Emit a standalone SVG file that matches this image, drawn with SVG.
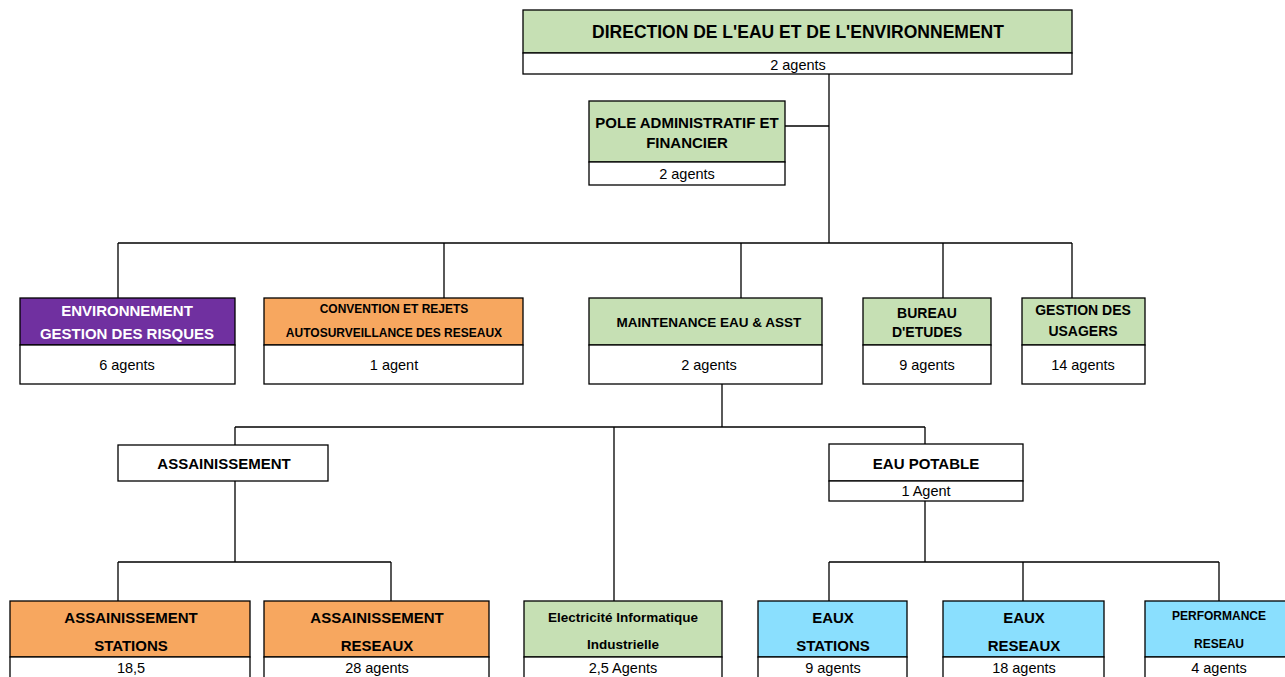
<svg xmlns="http://www.w3.org/2000/svg" width="1285" height="677" viewBox="0 0 1285 677">
<style>
  text { font-family: "Liberation Sans", Arial, sans-serif; text-anchor: middle; dominant-baseline: central; fill: #000; }
  .b { font-weight: bold; }
  .box { stroke: #000; stroke-width: 1.3; }
  .w { fill: #fff; }
  .g { fill: #C6E0B4; }
  .p { fill: #7030A0; }
  .o { fill: #F7A75F; }
  .c { fill: #8ADFFE; }
  .wt { fill: #fff; }
  .ln { stroke: #000; stroke-width: 1.3; fill: none; }
  .t17 { font-size: 17.5px; }
  .t15 { font-size: 15px; }
  .t14 { font-size: 14px; }
  .t13 { font-size: 13.5px; }
  .t12 { font-size: 12px; }
  .a { font-size: 14.5px; }
</style>
<rect width="1285" height="677" fill="#fff"/>
<g id="connectors" class="ln">
  <path d="M829 74 V243"/>
  <path d="M785 126 H829"/>
  <path d="M118 243 H1072"/>
  <path d="M118 243 V298 M444 243 V298 M741 243 V298 M943 243 V298 M1072 243 V298"/>
  <path d="M722 384 V427"/>
  <path d="M235 427 H925"/>
  <path d="M235 427 V445 M925 427 V444 M614 427 V601"/>
  <path d="M235 481 V562 M118 562 H391 M118 562 V601 M391 562 V601"/>
  <path d="M925 501 V562 M829 562 H1219 M829 562 V601 M1023 562 V601 M1219 562 V601"/>
</g>
<g id="direction">
  <rect class="box g" x="523" y="10" width="549" height="43"/>
  <rect class="box w" x="523" y="53" width="549" height="21"/>
  <text class="b t17" x="798" y="32">DIRECTION DE L'EAU ET DE L'ENVIRONNEMENT</text>
  <text class="a" x="798" y="65">2 agents</text>
</g>
<g id="pole">
  <rect class="box g" x="589" y="101" width="196" height="61"/>
  <rect class="box w" x="589" y="162" width="196" height="23"/>
  <text class="b t15" x="687" y="122">POLE ADMINISTRATIF ET</text>
  <text class="b t15" x="687" y="142">FINANCIER</text>
  <text class="a" x="687" y="174">2 agents</text>
</g>
<g id="environnement">
  <rect class="box p" x="20" y="298" width="215" height="47"/>
  <rect class="box w" x="20" y="345" width="215" height="39"/>
  <text class="b t15 wt" x="127" y="310">ENVIRONNEMENT</text>
  <text class="b t15 wt" x="127" y="333">GESTION DES RISQUES</text>
  <text class="a" x="127" y="365">6 agents</text>
</g>
<g id="convention">
  <rect class="box o" x="264" y="298" width="259" height="47"/>
  <rect class="box w" x="264" y="345" width="259" height="39"/>
  <text class="b t12" x="394" y="309">CONVENTION ET REJETS</text>
  <text class="b t12" x="394" y="333">AUTOSURVEILLANCE DES RESEAUX</text>
  <text class="a" x="394" y="365">1 agent</text>
</g>
<g id="maintenance">
  <rect class="box g" x="589" y="298" width="233" height="47"/>
  <rect class="box w" x="589" y="345" width="233" height="39"/>
  <text class="b t13" x="709" y="322">MAINTENANCE EAU &amp; ASST</text>
  <text class="a" x="709" y="365">2 agents</text>
</g>
<g id="bureau">
  <rect class="box g" x="863" y="298" width="128" height="47"/>
  <rect class="box w" x="863" y="345" width="128" height="39"/>
  <text class="b t14" x="927" y="313">BUREAU</text>
  <text class="b t14" x="927" y="332">D'ETUDES</text>
  <text class="a" x="927" y="365">9 agents</text>
</g>
<g id="usagers">
  <rect class="box g" x="1022" y="298" width="123" height="47"/>
  <rect class="box w" x="1022" y="345" width="123" height="39"/>
  <text class="b t14" x="1083" y="310">GESTION DES</text>
  <text class="b t14" x="1083" y="331">USAGERS</text>
  <text class="a" x="1083" y="365">14 agents</text>
</g>
<g id="assainissement">
  <rect class="box w" x="118" y="445" width="210" height="36"/>
  <text class="b t15" x="224" y="463">ASSAINISSEMENT</text>
</g>
<g id="eau-potable">
  <rect class="box w" x="829" y="444" width="194" height="37"/>
  <rect class="box w" x="829" y="481" width="194" height="20"/>
  <text class="b t15" x="926" y="463">EAU POTABLE</text>
  <text class="a" x="926" y="491">1 Agent</text>
</g>
<g id="ass-stations">
  <rect class="box o" x="10" y="601" width="240" height="56"/>
  <rect class="box w" x="10" y="657" width="240" height="30"/>
  <text class="b t15" x="131" y="617">ASSAINISSEMENT</text>
  <text class="b t15" x="131" y="645">STATIONS</text>
  <text class="a" x="131" y="668">18,5</text>
</g>
<g id="ass-reseaux">
  <rect class="box o" x="264" y="601" width="225" height="56"/>
  <rect class="box w" x="264" y="657" width="225" height="30"/>
  <text class="b t15" x="377" y="617">ASSAINISSEMENT</text>
  <text class="b t15" x="377" y="645">RESEAUX</text>
  <text class="a" x="377" y="668">28 agents</text>
</g>
<g id="electricite">
  <rect class="box g" x="524" y="601" width="198" height="56"/>
  <rect class="box w" x="524" y="657" width="198" height="30"/>
  <text class="b t13" x="623" y="617">Electricité Informatique</text>
  <text class="b t13" x="623" y="644">Industrielle</text>
  <text class="a" x="623" y="668">2,5 Agents</text>
</g>
<g id="eaux-stations">
  <rect class="box c" x="758" y="601" width="149" height="56"/>
  <rect class="box w" x="758" y="657" width="149" height="30"/>
  <text class="b t15" x="833" y="617">EAUX</text>
  <text class="b t15" x="833" y="645">STATIONS</text>
  <text class="a" x="833" y="668">9 agents</text>
</g>
<g id="eaux-reseaux">
  <rect class="box c" x="943" y="601" width="161" height="56"/>
  <rect class="box w" x="943" y="657" width="161" height="30"/>
  <text class="b t15" x="1024" y="617">EAUX</text>
  <text class="b t15" x="1024" y="645">RESEAUX</text>
  <text class="a" x="1024" y="668">18 agents</text>
</g>
<g id="performance">
  <rect class="box c" x="1145" y="601" width="145" height="56"/>
  <rect class="box w" x="1145" y="657" width="145" height="30"/>
  <text class="b t12" x="1219" y="616">PERFORMANCE</text>
  <text class="b t12" x="1219" y="644">RESEAU</text>
  <text class="a" x="1219" y="668">4 agents</text>
</g>
</svg>
